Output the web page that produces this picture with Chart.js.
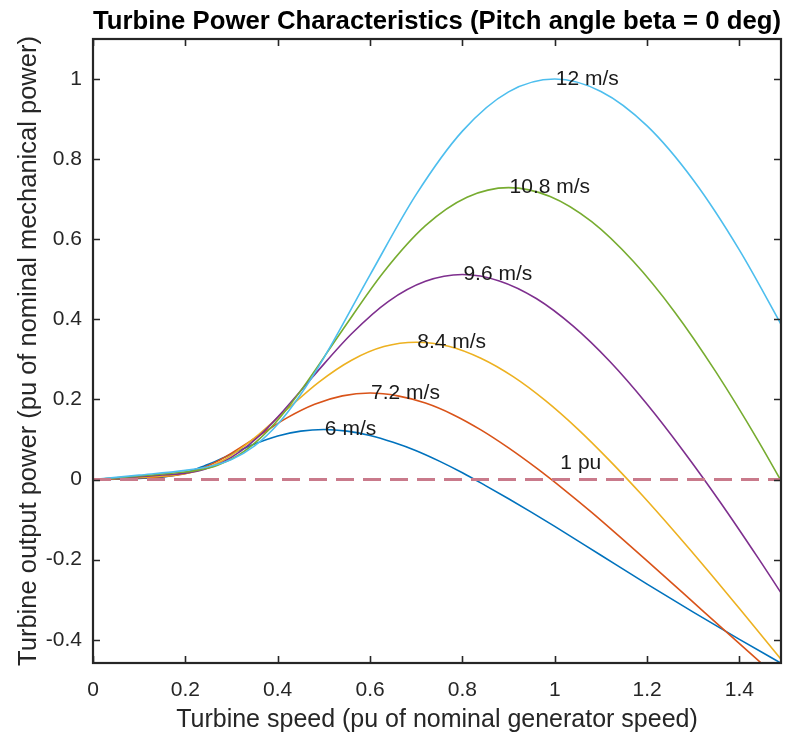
<!DOCTYPE html>
<html>
<head>
<meta charset="utf-8">
<script src="https://cdn.jsdelivr.net/npm/chart.js@4/dist/chart.umd.min.js"></script>
<style>
  body { margin: 0; background: #fff; }
  #wrap { width: 785px; height: 742px; }
</style>
</head>
<body>
<div id="wrap"><canvas id="powerChart" width="785" height="742"></canvas></div>
<script>
// turbine speed (pu) / output power (pu)
const speeds6 = [0, 0.05, 0.1, 0.125, 0.15, 0.175, 0.2, 0.225, 0.25, 0.3, 0.35, 0.4, 0.45, 0.5, 0.55, 0.6, 0.65, 0.7, 0.75, 0.8, 0.85, 0.9, 0.95, 1.0, 1.1, 1.2, 1.3, 1.4, 1.5];
const power6 = [0, 0.001, 0.003, 0.004, 0.006, 0.010, 0.017, 0.027, 0.038, 0.064, 0.089, 0.109, 0.121, 0.125, 0.121, 0.110, 0.093, 0.072, 0.046, 0.017, -0.015, -0.048, -0.082, -0.117, -0.189, -0.261, -0.331, -0.399, -0.465];

const speeds72 = [0, 0.06, 0.12, 0.15, 0.18, 0.21, 0.24, 0.27, 0.3, 0.36, 0.42, 0.48, 0.54, 0.6, 0.66, 0.72, 0.78, 0.84, 0.9, 0.96, 1.02, 1.08, 1.14, 1.2, 1.32, 1.44, 1.56];
const power72 = [0, 0.002, 0.005, 0.007, 0.011, 0.018, 0.030, 0.046, 0.066, 0.110, 0.154, 0.188, 0.209, 0.216, 0.209, 0.191, 0.162, 0.124, 0.079, 0.029, -0.025, -0.082, -0.142, -0.203, -0.327, -0.451, -0.572];

const speeds84 = [0, 0.07, 0.14, 0.175, 0.21, 0.245, 0.28, 0.315, 0.35, 0.42, 0.49, 0.56, 0.63, 0.7, 0.77, 0.84, 0.91, 0.98, 1.05, 1.12, 1.19, 1.26, 1.33, 1.4, 1.54];
const power84 = [0, 0.004, 0.008, 0.011, 0.017, 0.029, 0.047, 0.073, 0.104, 0.175, 0.244, 0.298, 0.332, 0.343, 0.333, 0.303, 0.257, 0.197, 0.126, 0.046, -0.040, -0.131, -0.225, -0.322, -0.519];

const speeds96 = [0, 0.08, 0.16, 0.2, 0.24, 0.28, 0.32, 0.36, 0.4, 0.48, 0.56, 0.64, 0.72, 0.8, 0.88, 0.96, 1.04, 1.12, 1.2, 1.28, 1.36, 1.44, 1.52];
const power96 = [0, 0.006, 0.012, 0.016, 0.025, 0.043, 0.071, 0.109, 0.156, 0.262, 0.364, 0.445, 0.495, 0.512, 0.496, 0.452, 0.383, 0.294, 0.188, 0.069, -0.059, -0.195, -0.336];

const speeds108 = [0, 0.09, 0.18, 0.225, 0.27, 0.315, 0.36, 0.405, 0.45, 0.54, 0.63, 0.72, 0.81, 0.9, 0.99, 1.08, 1.17, 1.26, 1.35, 1.44, 1.53];
const power108 = [0, 0.008, 0.017, 0.023, 0.036, 0.061, 0.101, 0.155, 0.222, 0.373, 0.519, 0.634, 0.705, 0.729, 0.707, 0.644, 0.545, 0.418, 0.267, 0.098, -0.085];

const speeds12 = [0, 0.1, 0.2, 0.25, 0.3, 0.35, 0.4, 0.45, 0.5, 0.6, 0.7, 0.8, 0.9, 1.0, 1.1, 1.2, 1.3, 1.4, 1.5];
const power12 = [0, 0.011, 0.023, 0.032, 0.050, 0.084, 0.138, 0.213, 0.304, 0.511, 0.712, 0.870, 0.968, 1.000, 0.969, 0.883, 0.748, 0.573, 0.367];

// dashed reference line
const refSpeeds = [0, 1.49];
const refPower = [0, 0];

// curve labels and where they sit
const windLabels = ['6 m/s', '7.2 m/s', '8.4 m/s', '9.6 m/s', '10.8 m/s', '12 m/s', '1 pu'];
const labelX = [0.5, 0.6, 0.7, 0.8, 0.9, 1.0, 1.01];
const labelY = [0.125, 0.216, 0.343, 0.512, 0.729, 1.0, 0.04];

const xTicks = [0, 0.2, 0.4, 0.6, 0.8, 1, 1.2, 1.4];
const yTicks = [-0.4, -0.2, 0, 0.2, 0.4, 0.6, 0.8, 1];

const FONT = "'Liberation Sans', Arial, Helvetica, sans-serif";
const AXIS = '#262626';

const pts = (xs, ys) => xs.map((v, i) => ({ x: v, y: ys[i] }));

function curve(xs, ys, color, order) {
  return {
    data: pts(xs, ys),
    borderColor: color,
    borderWidth: 1.6,
    pointRadius: 0,
    cubicInterpolationMode: 'monotone',
    clip: 0,
    order
  };
}

const frame = {
  id: 'frame',
  afterDatasetsDraw(chart) {
    const { ctx, chartArea: a, scales: { x, y } } = chart;
    ctx.save();
    ctx.strokeStyle = AXIS;
    ctx.lineWidth = 1.6;
    xTicks.forEach(v => {
      const px = Math.round(x.getPixelForValue(v)) + 0.5;
      ctx.beginPath();
      ctx.moveTo(px, a.bottom); ctx.lineTo(px, a.bottom - 7);
      ctx.moveTo(px, a.top); ctx.lineTo(px, a.top + 7);
      ctx.stroke();
    });
    yTicks.forEach(v => {
      const py = Math.round(y.getPixelForValue(v)) + 0.5;
      ctx.beginPath();
      ctx.moveTo(a.left, py); ctx.lineTo(a.left + 7, py);
      ctx.moveTo(a.right, py); ctx.lineTo(a.right - 7, py);
      ctx.stroke();
    });
    ctx.lineWidth = 2.2;
    ctx.strokeRect(a.left, a.top, a.right - a.left, a.bottom - a.top);

    ctx.fillStyle = '#1a1a1a';
    ctx.font = '21px ' + FONT;
    ctx.textAlign = 'left';
    ctx.textBaseline = 'middle';
    windLabels.forEach((t, i) => {
      ctx.fillText(t, x.getPixelForValue(labelX[i]) + 1, y.getPixelForValue(labelY[i]));
    });
    ctx.restore();
  }
};

new Chart(document.getElementById('powerChart'), {
  type: 'line',
  data: {
    datasets: [
      { data: pts(refSpeeds, refPower), borderColor: '#c97a8b', borderWidth: 3, borderDash: [18, 9], pointRadius: 0, clip: 0, order: 0 },
      curve(speeds12, power12, '#4DBEEE', 1),
      curve(speeds108, power108, '#77AC30', 2),
      curve(speeds96, power96, '#7E2F8E', 3),
      curve(speeds84, power84, '#EDB120', 4),
      curve(speeds72, power72, '#D95319', 5),
      curve(speeds6, power6, '#0072BD', 6)
    ]
  },
  options: {
    responsive: false,
    animation: false,
    events: [],
    layout: { padding: { left: 0, right: 4, top: 0, bottom: 0 } },
    plugins: {
      legend: { display: false },
      tooltip: { enabled: false },
      title: {
        display: true,
        fullSize: false,
        text: 'Turbine Power Characteristics (Pitch angle beta = 0 deg)',
        color: '#000',
        font: { family: FONT, size: 26, weight: 'bold', lineHeight: 1.0 },
        padding: { top: 9, bottom: 4 }
      }
    },
    scales: {
      x: {
        type: 'linear',
        min: 0,
        max: 1.49,
        grid: { display: false },
        border: { display: false },
        afterBuildTicks: s => { s.ticks = xTicks.map(v => ({ value: v })); },
        afterFit: s => { s.height = 79; },
        ticks: {
          color: AXIS,
          font: { family: FONT, size: 21 },
          padding: 7,
          maxRotation: 0,
          callback: v => String(+v.toFixed(2))
        },
        title: {
          display: true,
          text: 'Turbine speed (pu of nominal generator speed)',
          color: AXIS,
          font: { family: FONT, size: 25 },
          padding: { top: 6, bottom: 7 }
        }
      },
      y: {
        type: 'linear',
        min: -0.458,
        max: 1.1,
        grid: { display: false },
        border: { display: false },
        afterBuildTicks: s => { s.ticks = yTicks.map(v => ({ value: v })); },
        afterFit: s => { s.width = 93; },
        ticks: {
          color: AXIS,
          font: { family: FONT, size: 21 },
          padding: 3,
          callback: v => String(+v.toFixed(2))
        },
        title: {
          display: true,
          text: 'Turbine output power (pu of nominal mechanical power)',
          color: AXIS,
          font: { family: FONT, size: 25.5 },
          padding: { top: 14, bottom: 14 }
        }
      }
    }
  },
  plugins: [frame]
});
</script>
</body>
</html>
